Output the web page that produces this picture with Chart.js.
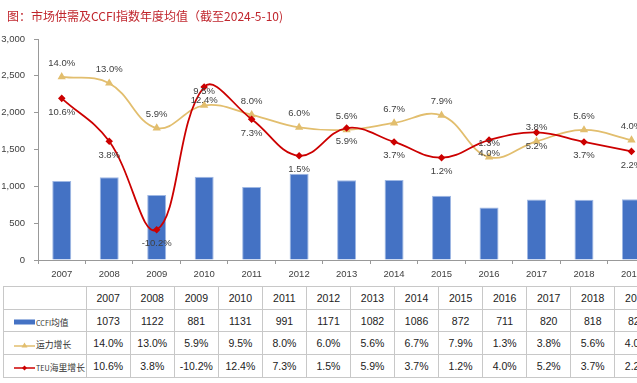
<!DOCTYPE html>
<html><head><meta charset="utf-8">
<script src="https://cdn.jsdelivr.net/npm/chart.js@4/dist/chart.umd.min.js"></script>
<style>
html,body{margin:0;padding:0;background:#fff;overflow:hidden;width:637px;height:383px;}
#wrap{position:relative;width:700px;height:383px;}
#title{position:absolute;left:7px;top:8px;font-family:"Noto Sans CJK SC";font-size:12px;line-height:16px;color:#C0262D;white-space:nowrap;}
#cv{position:absolute;left:0;top:0;}
table{position:absolute;left:3px;top:286px;border-collapse:collapse;table-layout:fixed;width:656px;}
tr{height:22.7px;}
td{border:1px solid #c8c8c8;padding:0;text-align:center;font-family:"Liberation Sans";font-size:10.5px;color:#222;white-space:nowrap;overflow:hidden;}
td.lab{text-align:left;padding-left:10px;font-family:"Noto Sans CJK SC";font-size:8.8px;color:#333;padding-top:3px;}
td.lab .lt{font-size:7.2px;}
td.lab svg{vertical-align:middle;margin-right:1px;position:relative;top:-1px;}
</style>
</head><body>
<div id="wrap">
<canvas id="cv" width="660" height="285"></canvas>
<div id="title">图：市场供需及CCFI指数年度均值（截至2024-5-10)</div>
<table id="tbl"></table>
</div>
<script>
const years = ['2007','2008','2009','2010','2011','2012','2013','2014','2015','2016','2017','2018','2019'];
const ccfi = [1073,1122,881,1131,991,1171,1082,1086,872,711,820,818,825];
const capacityGrowth = [14.0,13.0,5.9,9.5,8.0,6.0,5.6,6.7,7.9,1.3,3.8,5.6,4.0];
const teuGrowth = [10.6,3.8,-10.2,12.4,7.3,1.5,5.9,3.7,1.2,4.0,5.2,3.7,2.2];
const seriesNames = ['CCFI均值','运力增长','TEU海里增长'];

const BLUE = '#4472C4', GOLD = '#E2BE6E', RED = '#CC0000';

const labelPlugin = {
  id: 'pctLabels',
  afterDatasetsDraw(chart) {
    const ctx = chart.ctx;
    ctx.save();
    ctx.font = '9.5px "Liberation Sans"';
    ctx.fillStyle = '#404040';
    ctx.textAlign = 'center';
    ctx.textBaseline = 'middle';
    chart.data.datasets.forEach((ds, i) => {
      if (ds.type !== 'line') return;
      const meta = chart.getDatasetMeta(i);
      meta.data.forEach((pt, j) => {
        ctx.fillText(ds.data[j].toFixed(1) + '%', pt.x, pt.y + ds.labelOffset);
      });
    });
    ctx.restore();
  }
};

new Chart(document.getElementById('cv'), {
  data: {
    labels: years,
    datasets: [
      { type: 'line', label: seriesNames[2], data: teuGrowth, yAxisID: 'y1', labelOffset: 13.7,
        borderColor: RED, backgroundColor: RED, borderWidth: 1.8, tension: 0.4,
        pointStyle: 'rectRot', pointRadius: 2.5, pointHoverRadius: 2.5, fill: false },
      { type: 'line', label: seriesNames[1], data: capacityGrowth, yAxisID: 'y1', labelOffset: -13.7,
        borderColor: GOLD, backgroundColor: GOLD, borderWidth: 1.8, tension: 0.4,
        pointStyle: 'triangle', pointRadius: 3, pointHoverRadius: 3, fill: false },
      { type: 'bar', label: seriesNames[0], data: ccfi, yAxisID: 'y',
        backgroundColor: BLUE, borderColor: '#9FB8E4', borderWidth: 1,
        categoryPercentage: 1, barPercentage: 0.4 }
    ]
  },
  options: {
    responsive: false, animation: false, devicePixelRatio: 1,
    layout: { padding: { top: 39, left: 0, right: 4.5, bottom: 0 } },
    plugins: { legend: { display: false }, tooltip: { enabled: false } },
    scales: {
      x: {
        type: 'category', offset: true,
        grid: { display: true, drawOnChartArea: false, drawTicks: true, tickLength: 4, color: '#999', offset: true },
        border: { color: '#999' },
        ticks: { color: '#404040', font: { size: 9.5, family: 'Liberation Sans' }, padding: 5, maxRotation: 0, autoSkip: false },
        afterFit(s) { s.height = 25; }
      },
      y: {
        position: 'left', min: 0, max: 3000,
        grid: { drawOnChartArea: false, drawTicks: true, tickLength: 4, color: '#999' },
        border: { color: '#999' },
        ticks: { stepSize: 500, color: '#404040', font: { size: 9.5, family: 'Liberation Sans' }, padding: 9,
          callback: v => v.toLocaleString('en-US') },
        afterFit(s) { s.width = 38; }
      },
      y1: { display: false, position: 'right', min: -15, max: 20 }
    }
  },
  plugins: [labelPlugin]
});

// data table
const tbl = document.getElementById('tbl');
let html = '<colgroup><col style="width:82.7px">' + years.map(() => '<col style="width:44.06px">').join('') + '</colgroup>';
html += '<tr><td></td>' + years.map(y => '<td>' + y + '</td>').join('') + '</tr>';
const swBar = '<svg width="21" height="8"><rect x="0" y="1.5" width="21" height="5" fill="' + BLUE + '"/></svg>';
const swTri = '<svg width="21" height="8"><line x1="0" y1="5" x2="21" y2="5" stroke="' + GOLD + '" stroke-width="1.5"/><polygon points="10.5,1.5 13.5,6.5 7.5,6.5" fill="' + GOLD + '"/></svg>';
const swDia = '<svg width="21" height="8"><line x1="0" y1="4" x2="21" y2="4" stroke="' + RED + '" stroke-width="1.5"/><polygon points="10.5,1.5 13,4 10.5,6.5 8,4" fill="' + RED + '"/></svg>';
function labelHtml(name, sw) {
  const m = name.match(/^([A-Za-z]+)(.*)$/);
  const txt = m ? '<span class="lt">' + m[1] + '</span>' + m[2] : name;
  return '<td class="lab">' + sw + txt + '</td>';
}
html += '<tr>' + labelHtml(seriesNames[0], swBar) + ccfi.map(v => '<td>' + v + '</td>').join('') + '</tr>';
html += '<tr>' + labelHtml(seriesNames[1], swTri) + capacityGrowth.map(v => '<td>' + v.toFixed(1) + '%</td>').join('') + '</tr>';
html += '<tr>' + labelHtml(seriesNames[2], swDia) + teuGrowth.map(v => '<td>' + v.toFixed(1) + '%</td>').join('') + '</tr>';
tbl.innerHTML = html;
</script>
</body></html>
